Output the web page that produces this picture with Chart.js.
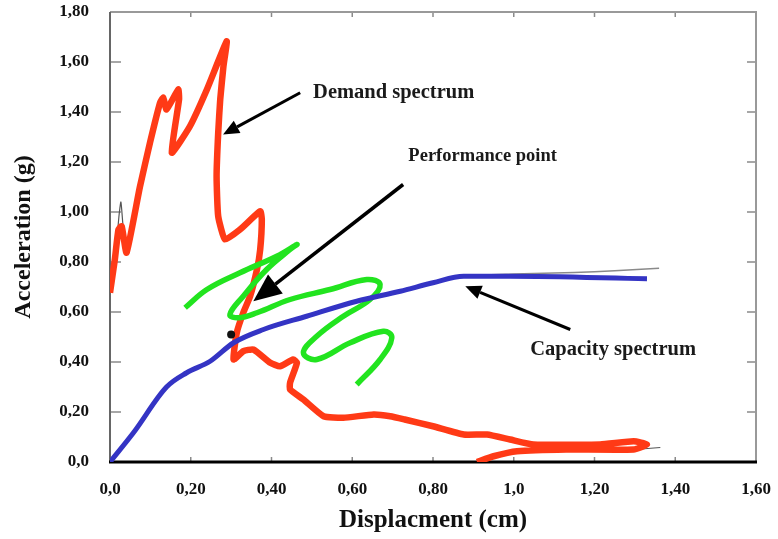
<!DOCTYPE html>
<html>
<head>
<meta charset="utf-8">
<title>Capacity spectrum</title>
<script src="https://cdn.jsdelivr.net/npm/chart.js"></script>
<style>
  html, body { margin: 0; padding: 0; background: #fff; }
  #wrap { width: 778px; height: 539px; position: relative; }
</style>
</head>
<body>
<div id="wrap"><canvas id="spectrumChart"></canvas></div>
<script>
// --------- Data ---------
const xTickLabels = ["0,0", "0,20", "0,40", "0,60", "0,80", "1,0", "1,20", "1,40", "1,60"];
const yTickLabels = ["0,0", "0,20", "0,40", "0,60", "0,80", "1,00", "1,20", "1,40", "1,60", "1,80"];

// [displacement (cm), acceleration (g)]
const demandSpectrum = [
  [0.0, 0.677], [0.012, 0.81], [0.021, 0.93], [0.029, 0.943], [0.041, 0.837],
  [0.074, 1.10], [0.099, 1.277], [0.124, 1.437], [0.132, 1.457], [0.14, 1.41],
  [0.169, 1.49], [0.171, 1.45], [0.153, 1.237], [0.198, 1.343], [0.24, 1.49],
  [0.289, 1.683], [0.281, 1.583], [0.273, 1.45], [0.268, 1.317], [0.264, 1.143],
  [0.268, 0.983], [0.285, 0.89], [0.322, 0.93], [0.372, 1.003], [0.376, 0.97],
  [0.372, 0.85], [0.364, 0.77], [0.347, 0.663], [0.33, 0.597], [0.314, 0.517],
  [0.306, 0.41], [0.33, 0.443], [0.355, 0.45], [0.397, 0.397], [0.421, 0.383],
  [0.454, 0.41], [0.463, 0.397], [0.446, 0.317], [0.446, 0.29], [0.479, 0.25],
  [0.529, 0.183], [0.578, 0.177], [0.653, 0.19], [0.694, 0.183], [0.73, 0.17],
  [0.80, 0.143], [0.876, 0.11], [0.934, 0.11], [0.991, 0.09], [1.049, 0.07],
  [1.214, 0.07], [1.297, 0.083], [1.33, 0.07], [1.297, 0.05], [1.13, 0.05],
  [1.008, 0.043], [0.95, 0.023], [0.909, 0.0]
];
// thin original traces showing beside the thick curves
const demandTraceLeft = [[0.012, 0.80], [0.022, 0.98], [0.027, 1.04], [0.032, 0.95], [0.04, 0.85]];
const demandTraceTail = [[1.30, 0.05], [1.363, 0.058]];
const capacitySpectrum = [
  [0.0, 0.0], [0.058, 0.117], [0.14, 0.30], [0.19, 0.357], [0.248, 0.403],
  [0.306, 0.477], [0.38, 0.53], [0.487, 0.583], [0.611, 0.643], [0.719, 0.683],
  [0.80, 0.717], [0.876, 0.743], [0.991, 0.743], [1.33, 0.733]
];
const capacityTrace = [
  [0.80, 0.722], [0.88, 0.745], [1.0, 0.752], [1.15, 0.758], [1.25, 0.765], [1.36, 0.775]
];
const performanceCurve = [
  [0.186, 0.617], [0.24, 0.69], [0.322, 0.757], [0.413, 0.823], [0.463, 0.87],
  [0.446, 0.85], [0.388, 0.77], [0.33, 0.663], [0.297, 0.59], [0.318, 0.577],
  [0.364, 0.597], [0.446, 0.65], [0.545, 0.69], [0.636, 0.73], [0.669, 0.71],
  [0.644, 0.65], [0.578, 0.583], [0.512, 0.503], [0.479, 0.437], [0.512, 0.41],
  [0.595, 0.477], [0.677, 0.523], [0.698, 0.497], [0.669, 0.41], [0.611, 0.31]
];
const performancePoint = [[0.30, 0.51]];

// annotation text and arrows, in data units: [text, textX, textY, fromX, fromY, toX, toY]
const notes = [
  ["Demand spectrum", 0.503, 1.477, 0.471, 1.477, 0.280, 1.31],
  ["Performance point", 0.739, 1.223, 0.726, 1.11, 0.355, 0.643],
  ["Capacity spectrum", 1.041, 0.45, 1.14, 0.53, 0.88, 0.703]
];

const toXY = pts => pts.map(p => ({ x: p[0], y: p[1] }));
const serif = '"Liberation Serif", "Times New Roman", serif';

// --------- Frame, inward ticks, arrows, labels ---------
const frameAndNotes = {
  id: "frameAndNotes",
  beforeDatasetsDraw(chart) {
    const { ctx, chartArea: a, scales: { x, y } } = chart;
    ctx.save();
    ctx.strokeStyle = "#8a8a8a";
    ctx.lineWidth = 1.5;
    x.ticks.forEach((t, i) => {
      if (i === 0 || i === x.ticks.length - 1) return;
      const px = x.getPixelForValue(t.value);
      ctx.beginPath();
      ctx.moveTo(px, a.bottom); ctx.lineTo(px, a.bottom - 5);
      ctx.moveTo(px, a.top); ctx.lineTo(px, a.top + 5);
      ctx.stroke();
    });
    y.ticks.forEach((t, i) => {
      if (i === 0 || i === y.ticks.length - 1) return;
      const py = y.getPixelForValue(t.value);
      ctx.beginPath();
      ctx.moveTo(a.left, py); ctx.lineTo(a.left + 11, py);
      ctx.moveTo(a.right, py); ctx.lineTo(a.right - 9, py);
      ctx.stroke();
    });
    // top + right border
    ctx.strokeStyle = "#999";
    ctx.lineWidth = 2;
    ctx.beginPath();
    ctx.moveTo(a.left, a.top); ctx.lineTo(a.right, a.top); ctx.lineTo(a.right, a.bottom);
    ctx.stroke();
    // left axis
    ctx.strokeStyle = "#666";
    ctx.beginPath();
    ctx.moveTo(a.left, a.top); ctx.lineTo(a.left, a.bottom);
    ctx.stroke();
    // bottom axis
    ctx.strokeStyle = "#000";
    ctx.lineWidth = 3;
    ctx.beginPath();
    ctx.moveTo(a.left - 1, a.bottom); ctx.lineTo(a.right + 1, a.bottom);
    ctx.stroke();
    ctx.restore();
  },
  afterDatasetsDraw(chart) {
    const { ctx, scales: { x, y } } = chart;
    const sizes = [20.5, 18.5, 20.5];
    const heads = [[16, 7], [28, 12], [16, 7]];
    const widths = [3, 3.5, 3];
    ctx.save();
    notes.forEach((n, i) => {
      const x0 = x.getPixelForValue(n[3]), y0 = y.getPixelForValue(n[4]);
      const x1 = x.getPixelForValue(n[5]), y1 = y.getPixelForValue(n[6]);
      const ang = Math.atan2(y1 - y0, x1 - x0);
      const [len, half] = heads[i];
      const bx = x1 - len * Math.cos(ang), by = y1 - len * Math.sin(ang);
      ctx.strokeStyle = "#000";
      ctx.fillStyle = "#000";
      ctx.lineWidth = widths[i];
      ctx.beginPath();
      ctx.moveTo(x0, y0); ctx.lineTo(bx, by);
      ctx.stroke();
      ctx.beginPath();
      ctx.moveTo(x1, y1);
      ctx.lineTo(bx + half * Math.sin(ang), by - half * Math.cos(ang));
      ctx.lineTo(bx - half * Math.sin(ang), by + half * Math.cos(ang));
      ctx.closePath();
      ctx.fill();

      ctx.fillStyle = "#1a1a1a";
      ctx.font = "bold " + sizes[i] + "px " + serif;
      ctx.textAlign = "left";
      ctx.textBaseline = "middle";
      ctx.fillText(n[0], x.getPixelForValue(n[1]), y.getPixelForValue(n[2]));
    });
    ctx.restore();
  }
};

const thinTrace = (label, pts) => ({
  label,
  data: toXY(pts),
  borderColor: "#555",
  borderWidth: 1.2,
  tension: 0.2,
  pointRadius: 0,
  order: 5
});

// --------- Chart ---------
new Chart(document.getElementById("spectrumChart"), {
  type: "line",
  data: {
    datasets: [
      thinTrace("Demand trace left", demandTraceLeft),
      thinTrace("Demand trace tail", demandTraceTail),
      {
        label: "Demand spectrum",
        data: toXY(demandSpectrum),
        borderColor: "#ff3a16",
        borderWidth: 6.5,
        tension: 0.15,
        pointRadius: 0,
        order: 4
      },
      {
        label: "Performance curve",
        data: toXY(performanceCurve),
        borderColor: "#22e41f",
        borderWidth: 5.5,
        tension: 0.4,
        pointRadius: 0,
        order: 3
      },
      {
        label: "Capacity trace",
        data: toXY(capacityTrace),
        borderColor: "#8a8a8a",
        borderWidth: 1.5,
        tension: 0.2,
        pointRadius: 0,
        order: 2
      },
      {
        label: "Capacity spectrum",
        data: toXY(capacitySpectrum),
        borderColor: "#3434c4",
        borderWidth: 5,
        cubicInterpolationMode: "monotone",
        pointRadius: 0,
        order: 1
      },
      {
        label: "Performance point",
        data: toXY(performancePoint),
        showLine: false,
        pointRadius: 4,
        pointBackgroundColor: "#111",
        pointBorderWidth: 0,
        order: 0
      }
    ]
  },
  options: {
    responsive: true,
    maintainAspectRatio: false,
    animation: false,
    layout: { padding: { top: 12, right: 22, left: 0, bottom: 0 } },
    plugins: { legend: { display: false }, tooltip: { enabled: false } },
    scales: {
      x: {
        type: "linear",
        min: 0,
        max: 1.6,
        grid: { display: false },
        border: { display: false },
        afterFit: s => { s.height = 77; s.paddingLeft = 0; s.paddingRight = 0; },
        ticks: {
          stepSize: 0.2,
          padding: 9,
          color: "#111",
          font: { family: serif, size: 17, weight: "bold" },
          callback: (v, i) => xTickLabels[i]
        },
        title: {
          display: true,
          text: "Displacment (cm)",
          color: "#111",
          font: { family: serif, size: 25, weight: "bold" },
          padding: { bottom: 3 }
        }
      },
      y: {
        type: "linear",
        min: 0,
        max: 1.8,
        grid: { display: false },
        border: { display: false },
        afterFit: s => { s.width = 110; s.paddingTop = 0; s.paddingBottom = 0; },
        ticks: {
          stepSize: 0.2,
          padding: 13,
          color: "#111",
          font: { family: serif, size: 17, weight: "bold" },
          callback: (v, i) => yTickLabels[i]
        },
        title: {
          display: true,
          text: "Acceleration (g)",
          color: "#111",
          font: { family: serif, size: 24, weight: "bold" },
          padding: { top: 9 }
        }
      }
    }
  },
  plugins: [frameAndNotes]
});
</script>
</body>
</html>
